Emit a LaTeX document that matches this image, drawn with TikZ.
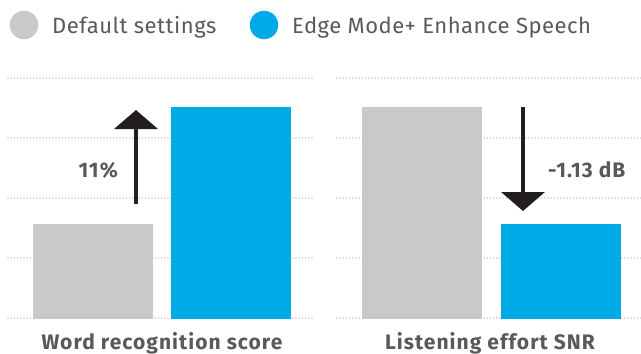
\documentclass[tikz,border=0pt]{standalone}
\usepackage{fontspec}
\setmainfont{Fira Sans}
\usetikzlibrary{arrows.meta}
\definecolor{barGray}{HTML}{C8C9C8}
\definecolor{barBlue}{HTML}{00AAE6}
\definecolor{txtGray}{HTML}{58595B}
\definecolor{gridGray}{HTML}{C4C4C4}
\definecolor{arrowBlack}{HTML}{231F20}
\tikzset{
  bar/.style={anchor=south west, inner sep=0pt, outer sep=0pt, minimum width=120pt},
  gridline/.style={gridGray, line width=1.6pt, line cap=round, dash pattern=on 0pt off 3.2pt},
  legdot/.style={circle, inner sep=0pt, minimum size=28.5pt},
  legtext/.style={anchor=base west, inner sep=0pt, text=txtGray, font=\fontsize{22}{24}\selectfont\addfontfeature{LetterSpace=2.4}},
  axlabel/.style={anchor=base, inner sep=0pt, text=txtGray, font=\bfseries\fontsize{21}{24}\selectfont\addfontfeature{LetterSpace=5}},
  vallabel/.style={inner sep=0pt, text=txtGray, font=\bfseries\fontsize{21}{24}\selectfont\addfontfeature{LetterSpace=5}},
  bigarrow/.style={arrowBlack, line width=4.3pt, -{Triangle[width=43pt,length=19pt]}}
}
\begin{document}
\begin{tikzpicture}[x=1pt,y=-1pt]
\useasboundingbox (0,0) rectangle (641,354);
% legend
\node[legdot, fill=barGray] (dg) at (24,25) {};
\node[legtext] (tg) at (52,33) {Default settings};
\node[legdot, fill=barBlue] (db) at (264,25) {};
\node[legtext] (tb) at (292,33) {Edge Mode+ Enhance Speech};
% grid lines
\foreach \y in {78,138,198,258,318}{
  \draw[gridline] (8,\y) -- (315,\y);
  \draw[gridline] (337,\y) -- (641,\y);
}
% left panel bars
\node[bar, fill=barGray, minimum height=95pt] (lg) at (33,319) {};
\node[bar, fill=barBlue, minimum height=212pt] (lb) at (171,319) {};
% right panel bars
\node[bar, fill=barGray, minimum height=212pt] (rg) at (362,319) {};
\node[bar, fill=barBlue, minimum height=95pt] (rb) at (501,319) {};
% arrows
\coordinate (la0) at (136,204);
\coordinate (la1) at (136,110);
\draw[bigarrow] (la0) -- (la1);
\coordinate (ra0) at (523,107);
\coordinate (ra1) at (523,211);
\draw[bigarrow] (ra0) -- (ra1);
% value labels
\node[vallabel, anchor=base east] (v1) at (118,177) {11\%};
\node[vallabel, anchor=base west] (v2) at (548,177) {-1.13 dB};
% axis labels
\node[axlabel] (x1) at (162,349) {Word recognition score};
\node[axlabel] (x2) at (490,349) {Listening effort SNR};
\end{tikzpicture}
\end{document}
